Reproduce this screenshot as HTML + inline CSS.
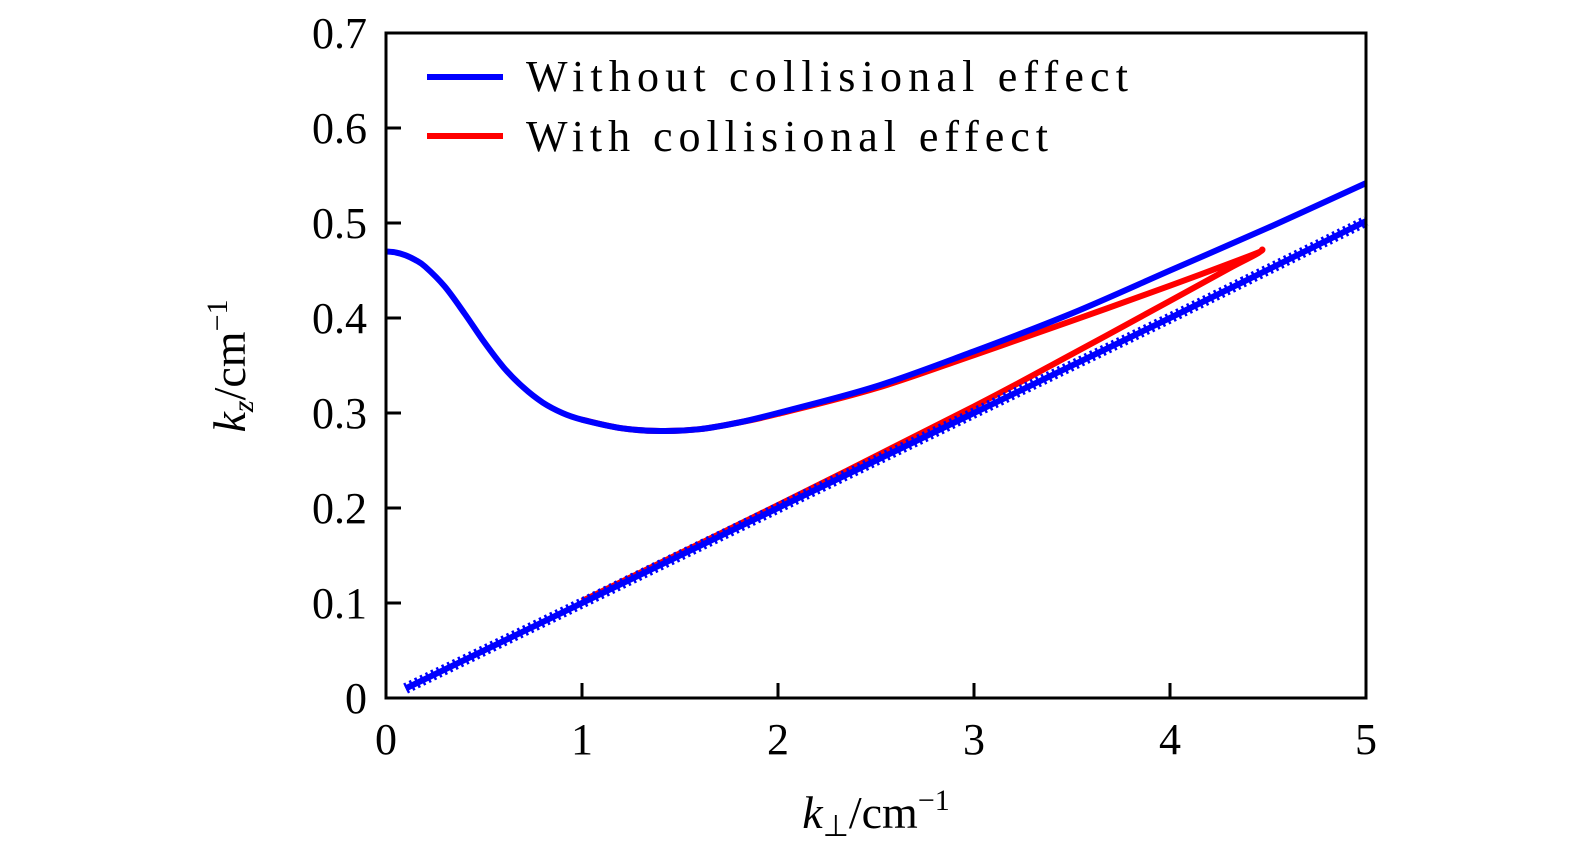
<!DOCTYPE html>
<html><head><meta charset="utf-8"><style>
body{margin:0;background:#fff;width:1575px;height:856px;overflow:hidden}
text{font-family:"Liberation Serif",serif;fill:#000}
</style></head><body>
<svg id="chart" width="1575" height="856" xmlns="http://www.w3.org/2000/svg">
<g id="marks"></g>
<rect x="386" y="33" width="980" height="665" fill="none" stroke="#000" stroke-width="3"/>
<g id="ticks"></g>
<text x="876" y="828" font-size="46" text-anchor="middle"><tspan font-style="italic">k</tspan><tspan font-size="30" dy="8">⊥</tspan><tspan dy="-8">/cm</tspan><tspan font-size="30" dy="-18">−1</tspan></text>
<text transform="translate(245,366) rotate(-90)" font-size="46" text-anchor="middle"><tspan font-style="italic">k</tspan><tspan font-size="30" font-style="italic" dy="8">z</tspan><tspan dy="-8">/cm</tspan><tspan font-size="30" dy="-18">−1</tspan></text>
<g>
<line x1="427" y1="77" x2="503" y2="77" stroke="#0000ff" stroke-width="6"/>
<text x="526" y="91" font-size="44" textLength="602" lengthAdjust="spacing">Without collisional effect</text>
<line x1="427" y1="136" x2="503" y2="136" stroke="#ff0000" stroke-width="6"/>
<text x="526" y="151" font-size="44" textLength="522" lengthAdjust="spacing">With collisional effect</text>
</g>
</svg>
<script>
const upperX=[0,0.05,0.1,0.15,0.2,0.3,0.4,0.5,0.6,0.7,0.8,0.9,1.0,1.2,1.4,1.6,1.8,2.0,2.5,3.0,3.5,4.0,4.5,5.0];
const upperY=[0.47,0.469,0.466,0.461,0.454,0.433,0.405,0.375,0.348,0.327,0.311,0.3,0.293,0.284,0.281,0.283,0.29,0.30,0.328,0.365,0.405,0.45,0.495,0.542];
const lowerX=[0.1,1,2,3,4,5];
const lowerY=[0.01,0.1,0.2,0.3,0.4,0.502];
const redX=[1.0,1.2,1.4,1.6,1.8,2.0,2.5,3.0,3.5,4.0,4.3,4.45,4.47,4.44,4.3,4.0,3.5,3.0,2.0,1.0];
const redY=[0.293,0.284,0.281,0.283,0.29,0.299,0.326,0.361,0.397,0.434,0.457,0.469,0.472,0.467,0.452,0.418,0.362,0.307,0.203,0.102];
const xTicks=[0,1,2,3,4,5];
const yTicks=[0,0.1,0.2,0.3,0.4,0.5,0.6,0.7];
const X=v=>386+v*196, Y=v=>698-v*950;
const NS='http://www.w3.org/2000/svg';
const marks=document.getElementById('marks'), ticks=document.getElementById('ticks');
function path(xs,ys,color,w,name,extra){
 const P=xs.map((x,i)=>[X(x),Y(ys[i])]);
 let d='M'+P[0][0].toFixed(1)+' '+P[0][1].toFixed(1);
 for(let i=0;i<P.length-1;i++){
  const p0=P[Math.max(i-1,0)],p1=P[i],p2=P[i+1],p3=P[Math.min(i+2,P.length-1)];
  const c1=[p1[0]+(p2[0]-p0[0])/6,p1[1]+(p2[1]-p0[1])/6];
  const c2=[p2[0]-(p3[0]-p1[0])/6,p2[1]-(p3[1]-p1[1])/6];
  d+=' C'+c1.map(v=>v.toFixed(1)).join(' ')+' '+c2.map(v=>v.toFixed(1)).join(' ')+' '+p2.map(v=>v.toFixed(1)).join(' ');
 }
 const p=document.createElementNS(NS,'path');
 p.setAttribute('d',d);
 p.setAttribute('fill','none');p.setAttribute('stroke',color);p.setAttribute('stroke-width',w);
 p.setAttribute('stroke-linejoin','round');
 if(extra)p.setAttribute('stroke-dasharray',extra);
 
 
 marks.appendChild(p);
}
path(redX,redY,'#ff0000',6,'with-collision-curve');
path(upperX,upperY,'#0000ff',6,'without-collision-upper-branch');
path(lowerX,lowerY,'#0000ff',6,'without-collision-lower-branch');
path(lowerX,lowerY,'#0000ff',11,'without-collision-lower-markers','2.5 3.5');
xTicks.forEach(v=>{
 const l=document.createElementNS(NS,'line');
 l.setAttribute('x1',X(v));l.setAttribute('x2',X(v));l.setAttribute('y1',698);l.setAttribute('y2',683);
 l.setAttribute('stroke','#000');l.setAttribute('stroke-width',3);
 
 
 ticks.appendChild(l);
 const t=document.createElementNS(NS,'text');
 t.setAttribute('x',X(v));t.setAttribute('y',754);t.setAttribute('font-size',44);t.setAttribute('text-anchor','middle');
 t.textContent=v;
 
 
 ticks.appendChild(t);
});
yTicks.forEach(v=>{
 const l=document.createElementNS(NS,'line');
 l.setAttribute('x1',386);l.setAttribute('x2',401);l.setAttribute('y1',Y(v));l.setAttribute('y2',Y(v));
 l.setAttribute('stroke','#000');l.setAttribute('stroke-width',3);
 
 
 ticks.appendChild(l);
 const t=document.createElementNS(NS,'text');
 t.setAttribute('x',367);t.setAttribute('y',Y(v)+15);t.setAttribute('font-size',44);t.setAttribute('text-anchor','end');
 t.textContent=v===0?'0':v.toFixed(1);
 
 
 ticks.appendChild(t);
});
</script>
</body></html>
